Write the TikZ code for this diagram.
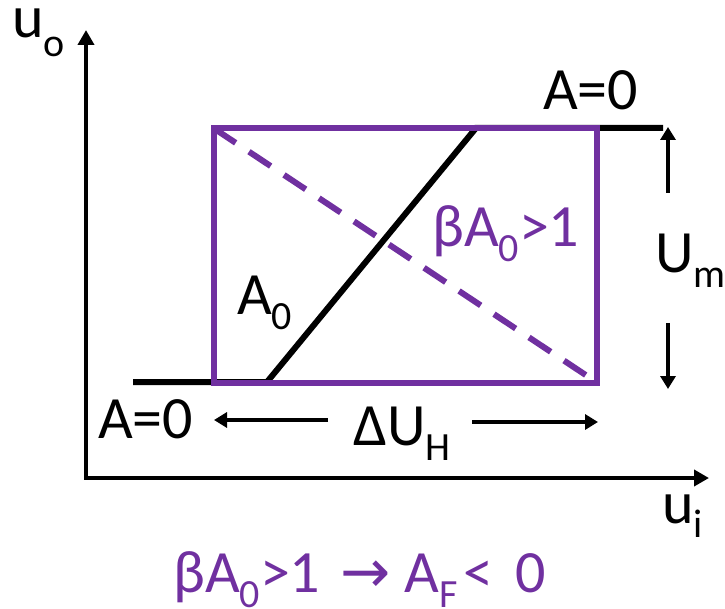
\documentclass[tikz,border=0pt]{standalone}
\usepackage{fontspec}
\setmainfont{Carlito}
\newfontfamily\arrowfont{DejaVu Sans}
\usetikzlibrary{arrows.meta}
\definecolor{vio}{HTML}{7030A0}
\newcommand{\lowsub}[2][15pt]{\raisebox{-#1}{\fontsize{40}{40}\selectfont #2}}
\begin{document}
\begin{tikzpicture}[x=1pt,y=-1pt,
  lbl/.style={inner sep=0pt, anchor=base west, font=\fontsize{60}{60}\selectfont},
  axis/.style={line width=4.5pt, {Triangle[length=15pt,width=16pt]}-{Triangle[length=15pt,width=16pt]}},
  dimarrow/.style={line width=4pt, -{Triangle[length=13pt,width=15pt]}},
  curve/.style={line width=6pt, line join=miter},
  box/.style={vio, line width=6pt},
  diag/.style={vio, line width=6pt, dash pattern=on 26pt off 16pt}]
\useasboundingbox (0,0) rectangle (725,609);
% axes
\coordinate (Ytop) at (86,30);
\coordinate (O) at (86,478);
\coordinate (Xend) at (709,478);
\draw[axis] (Ytop) -- (O) -- (Xend);
% transfer characteristic
\coordinate (C1) at (133,382);
\coordinate (C2) at (267,382);
\coordinate (C3) at (476,128);
\coordinate (C4) at (663,128);
\draw[curve] (C1) -- (C2) -- (C3) -- (C4);
% hysteresis box
\coordinate (BL) at (214,382.5);
\coordinate (TR) at (597,128.5);
\coordinate (TL) at (214,128.5);
\coordinate (BR) at (597,382.5);
\draw[box] (BL) rectangle (TR);
\draw[diag] (TL) -- (BR);
% U_m arrows
\coordinate (UmU1) at (668,193);
\coordinate (UmU2) at (668,127);
\coordinate (UmD1) at (668,323);
\coordinate (UmD2) at (668,389);
\draw[dimarrow] (UmU1) -- (UmU2);
\draw[dimarrow] (UmD1) -- (UmD2);
% Delta U_H arrows
\coordinate (HL1) at (328,420);
\coordinate (HL2) at (214,420);
\coordinate (HR1) at (472,422);
\coordinate (HR2) at (598,422);
\draw[dimarrow] (HL1) -- (HL2);
\draw[dimarrow] (HR1) -- (HR2);
% labels
\node[lbl] (uo) at (12,38) {u\lowsub[19pt]{o}};
\node[lbl] (ui) at (662,523) {u\lowsub[14pt]{i}};
\node[lbl] (Atop) at (543,110) {A=0};
\node[lbl] (Abot) at (98,438) {A=0};
\node[lbl] (dUH) at (353,445) {ΔU\lowsub{H}};
\node[lbl] (A0) at (237,315) {A\lowsub{0}};
\node[lbl, text=vio] (bA) at (432,247) {βA\lowsub{0}>1};
\node[lbl] (Um) at (655,273) {U\lowsub{m}};
\node[lbl, text=vio] (cond) at (173,592) {βA\lowsub{0}>1\hspace{20pt}{\arrowfont →}\hspace{14pt}A\lowsub{F}\hspace{6pt}<\hspace{22pt}0};
\end{tikzpicture}
\end{document}
